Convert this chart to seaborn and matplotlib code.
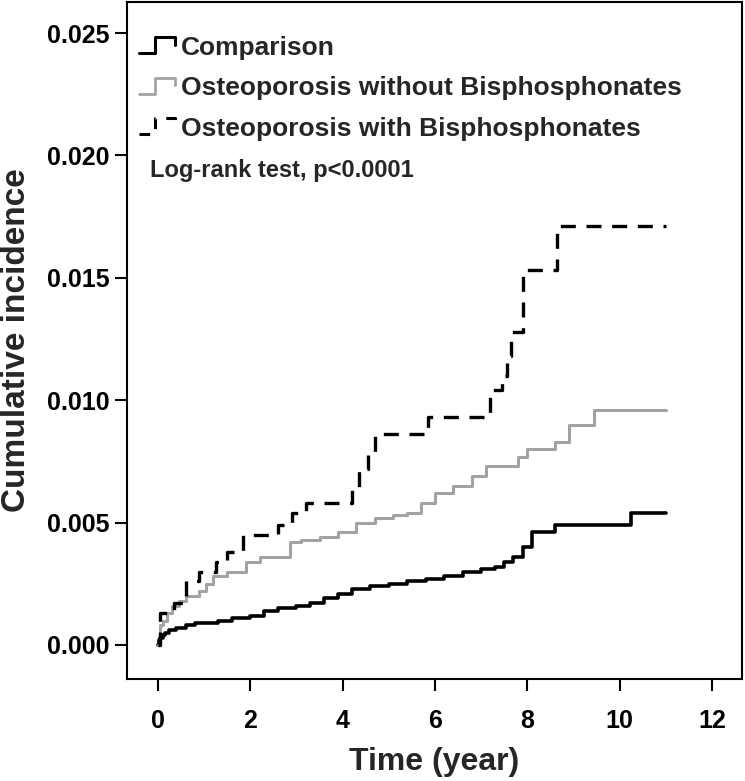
import matplotlib
matplotlib.use("Agg")
import matplotlib.pyplot as plt
import seaborn as sns
import pandas as pd
from matplotlib.lines import Line2D
from matplotlib.legend_handler import HandlerBase

# step data (time in years, cumulative incidence)
comp_t = [0, 0.02, 0.05, 0.1, 0.15, 0.25, 0.4, 0.6, 0.8, 1.0, 1.3, 1.6, 2.0, 2.3, 2.6, 3.0, 3.3,
          3.6, 3.9, 4.2, 4.6, 5.0, 5.4, 5.8, 6.2, 6.6, 7.0, 7.3, 7.5, 7.7, 7.9, 8.1, 8.6, 10.25, 11.0]
comp_v = [0, 0.0002, 0.0003, 0.0004, 0.0005, 0.0006, 0.0007, 0.0008, 0.0009, 0.0009, 0.0010,
          0.0011, 0.0012, 0.0014, 0.0015, 0.0016, 0.0017, 0.0019, 0.0021, 0.0023, 0.0024, 0.0025,
          0.0026, 0.0027, 0.0028, 0.0030, 0.0031, 0.0032, 0.0034, 0.0036, 0.0040, 0.0046, 0.0049,
          0.0054, 0.0054]

nobis_t = [0, 0.05, 0.1, 0.2, 0.3, 0.45, 0.6, 0.9, 1.05, 1.2, 1.5, 1.9, 2.2, 2.85, 3.1, 3.5, 3.9,
           4.3, 4.7, 5.1, 5.4, 5.7, 6.0, 6.4, 6.8, 7.1, 7.8, 8.0, 8.6, 8.9, 9.45, 11.0]
nobis_v = [0, 0.0008, 0.0010, 0.0013, 0.0016, 0.0018, 0.0020, 0.0022, 0.0025, 0.0028, 0.0030,
           0.0034, 0.0036, 0.0042, 0.0043, 0.0044, 0.0046, 0.0050, 0.0052, 0.0053, 0.0054, 0.0058,
           0.0062, 0.0065, 0.0069, 0.0073, 0.0077, 0.0080, 0.0083, 0.0090, 0.0096, 0.0096]

bis_t = [0, 0.05, 0.35, 0.6, 0.9, 1.25, 1.5, 1.85, 2.6, 2.9, 3.2, 4.2, 4.35, 4.55, 4.7, 5.85,
         7.2, 7.45, 7.55, 7.65, 7.9, 8.65, 11.0]
bis_v = [0, 0.0013, 0.0017, 0.0026, 0.0030, 0.0034, 0.0038, 0.0045, 0.0049, 0.0054, 0.0058,
         0.0064, 0.0072, 0.0078, 0.0086, 0.0093, 0.0104, 0.0110, 0.0118, 0.0128, 0.0153, 0.0171,
         0.0171]

labels = ["Comparison", "Osteoporosis without Bisphosphonates", "Osteoporosis with Bisphosphonates"]
x_ticks = [0, 2, 4, 6, 8, 10, 12]
y_ticks = [0.000, 0.005, 0.010, 0.015, 0.020, 0.025]

sns.set_style("ticks")
plt.rcParams['font.family'] = ['Liberation Sans', 'DejaVu Sans']
plt.rcParams['font.weight'] = 'bold'

fig = plt.figure(figsize=(7.45, 7.81), dpi=100)
ax = fig.add_axes([127 / 745, 1 - 679 / 781, 615 / 745, 677 / 781])

styles = [
    dict(color="black", linewidth=2.6, linestyle="-"),
    dict(color="#a3a3a3", linewidth=2.2, linestyle="-"),
    dict(color="black", linewidth=2.4, linestyle=(0, (4.5, 3.2))),
]
series = [(comp_t, comp_v), (nobis_t, nobis_v), (bis_t, bis_v)]

for (t, v), lab, st in zip(series, labels, styles):
    df = pd.DataFrame({"time": t, "inc": v})
    sns.lineplot(data=df, x="time", y="inc", ax=ax, estimator=None, sort=False,
                 drawstyle="steps-post", **st)


class StepHandler(HandlerBase):
    def __init__(self, style):
        super().__init__()
        self.style = style

    def create_artists(self, legend, orig_handle, xdescent, ydescent, width, height, fontsize, trans):
        x0 = -xdescent
        y0 = -ydescent
        xs = [x0, x0 + width * 0.42, x0 + width * 0.42, x0 + width * 0.95, x0 + width * 0.95]
        ys = [y0 + height * 0.1, y0 + height * 0.1, y0 + height * 0.95, y0 + height * 0.95, y0 + height * 0.55]
        ln = Line2D(xs, ys, transform=trans, **self.style)
        return [ln]


handles = [Line2D([], [], **st) for st in styles]
leg_styles = [
    dict(color="black", linewidth=2.2, linestyle="-"),
    dict(color="#a3a3a3", linewidth=2.0, linestyle="-"),
    dict(color="black", linewidth=2.2, linestyle=(0, (3.5, 3.5))),
]
ax.legend(handles, labels, loc="upper left", bbox_to_anchor=(12 / 615, 1 - 34 / 677),
          frameon=False, fontsize=19, handlelength=1.45, handletextpad=0.15,
          labelspacing=0.62, borderpad=0, borderaxespad=0,
          handler_map={h: StepHandler(s) for h, s in zip(handles, leg_styles)},
          prop={"weight": "bold", "size": 19})

ax.text(-0.17, 0.0194, "Log-rank test, p<0.0001", fontsize=17, fontweight="bold", va="center")

ax.set_xlim(-0.67, 12.65)
ax.set_ylim(-0.00139, 0.02627)
ax.set_xticks(x_ticks)
ax.set_yticks(y_ticks)
ax.set_xticklabels([str(x) for x in x_ticks], fontsize=18, fontweight="bold")
ax.set_yticklabels([f"{y:.3f}" for y in y_ticks], fontsize=18, fontweight="bold")
ax.tick_params(direction="out", length=8.5, width=1.5, colors="black", pad=4)
ax.tick_params(axis="x", pad=13)
for sp in ax.spines.values():
    sp.set_visible(True)
    sp.set_linewidth(1.5)
    sp.set_color("black")

ax.set_xlabel("Time (year)", fontsize=23, fontweight="bold", labelpad=10)
ax.set_ylabel("Cumulative incidence", fontsize=24, fontweight="bold", labelpad=11)

fig.savefig("out.png", dpi=100)
